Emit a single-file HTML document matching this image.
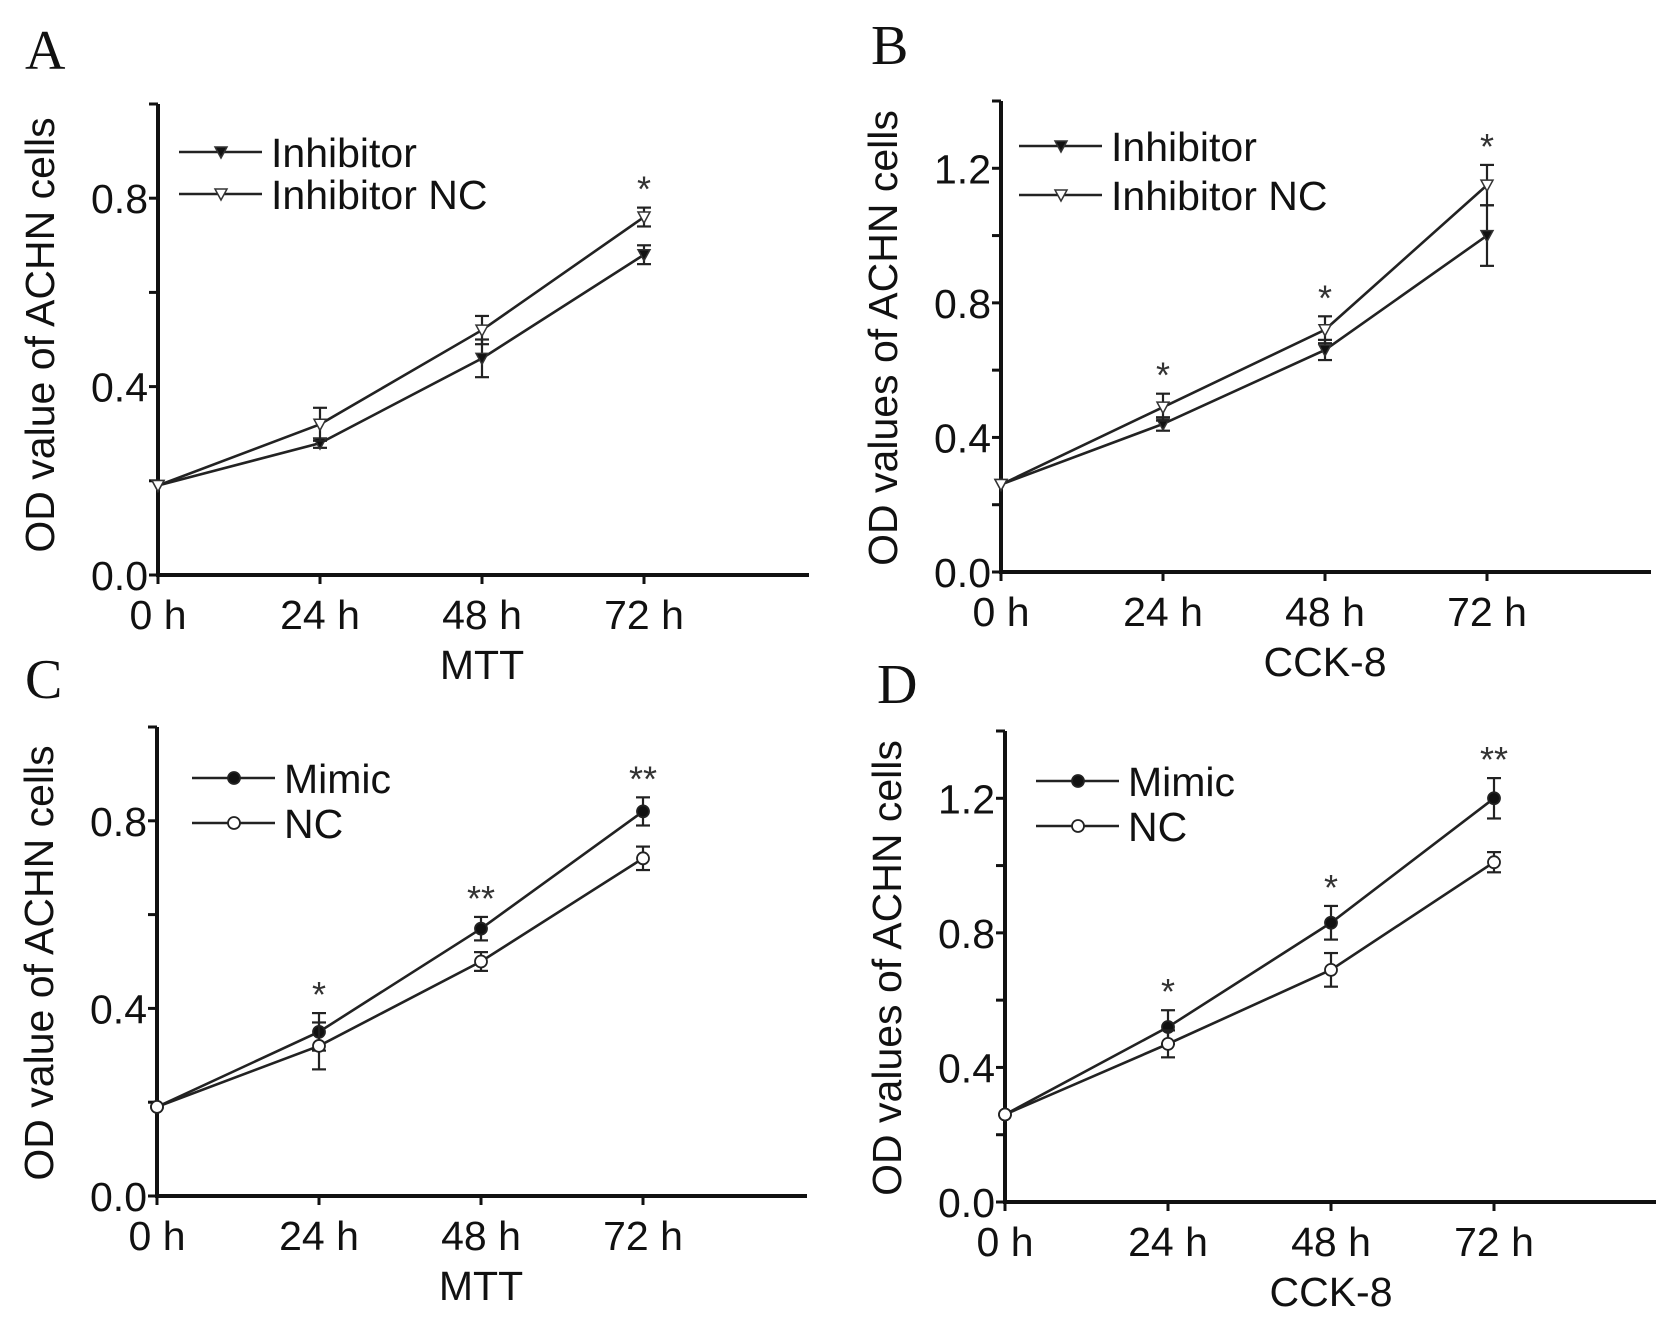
<!DOCTYPE html>
<html><head><meta charset="utf-8"><style>
body{margin:0;background:#fff;}
svg{display:block;font-family:"Liberation Sans",sans-serif;}
</style></head><body>
<svg id="fig" width="1670" height="1338" viewBox="0 0 1670 1338"></svg>
<script>
const timeLabels=["0 h","24 h","48 h","72 h"];
const aInhibitor=[0.19,0.28,0.46,0.68];
const aInhibitorErr=[0,0.01,0.04,0.02];
const aInhibitorNC=[0.19,0.32,0.52,0.76];
const aInhibitorNCErr=[0,0.035,0.03,0.02];
const aStars=["","","","*"];
const bInhibitor=[0.26,0.44,0.66,1.00];
const bInhibitorErr=[0,0.02,0.03,0.09];
const bInhibitorNC=[0.26,0.49,0.72,1.15];
const bInhibitorNCErr=[0,0.04,0.04,0.06];
const bStars=["","*","*","*"];
const cMimic=[0.19,0.35,0.57,0.82];
const cMimicErr=[0,0.04,0.025,0.03];
const cNC=[0.19,0.32,0.50,0.72];
const cNCErr=[0,0.05,0.02,0.025];
const cStars=["","*","**","**"];
const dMimic=[0.26,0.52,0.83,1.20];
const dMimicErr=[0,0.05,0.05,0.06];
const dNC=[0.26,0.47,0.69,1.01];
const dNCErr=[0,0.04,0.05,0.03];
const dStars=["","*","*","**"];
const ticksMTT=[0.0,0.4,0.8];
const ticksCCK=[0.0,0.4,0.8,1.2];

const NS="http://www.w3.org/2000/svg";
const svg=document.getElementById('fig');
const FS=41;
function mk(tag,attrs,parent,text){const e=document.createElementNS(NS,tag);for(const k in attrs)e.setAttribute(k,attrs[k]);if(text!==undefined)e.textContent=text;(parent||svg).appendChild(e);return e;}

function panel(p){
  const g=mk('g',{});
  
  
  const X=i=>p.x0+i*p.dx;
  const Y=v=>p.y0-(v/p.ymax)*(p.y0-p.yTop);
  const L=mk('text',{x:p.lx,y:p.ly,'font-family':'"Liberation Serif",serif','font-size':56,fill:'#111'},g,p.id);
  
  
  const ya=mk('line',{x1:p.x0,y1:p.yTop,x2:p.x0,y2:p.y0+2,stroke:'#111','stroke-width':4},g);
  
  
  const xa=mk('line',{x1:p.x0-2,y1:p.y0,x2:p.xEnd,y2:p.y0,stroke:'#111','stroke-width':4},g);
  
  
  for(let v=0;v<=p.ymax+1e-9;v+=0.2){mk('line',{x1:p.x0-9,y1:Y(v),x2:p.x0,y2:Y(v),stroke:'#111','stroke-width':3},g);}
  p.ticks.forEach(v=>{
    const t=mk('text',{x:p.x0-10,y:Y(v)+15,'text-anchor':'end','font-size':FS,fill:'#111'},g,v.toFixed(1));
    
    
  });
  timeLabels.forEach((s,i)=>{
    mk('line',{x1:X(i),y1:p.y0,x2:X(i),y2:p.y0+9,stroke:'#111','stroke-width':3},g);
    const t=mk('text',{x:X(i),y:p.y0+54,'text-anchor':'middle','font-size':FS,fill:'#111'},g,s);
    
    
  });
  const yt=mk('text',{x:0,y:0,'text-anchor':'middle','font-size':FS,fill:'#111',transform:`translate(${p.x0-104},${p.titleY}) rotate(-90)`},g,p.ytitle);
  
  
  const xt=mk('text',{x:X(2),y:p.y0+104,'text-anchor':'middle','font-size':FS,fill:'#111'},g,p.xtitle);
  
  
  p.series.forEach((s,si)=>{
    const pts=s.v.map((v,i)=>X(i)+','+Y(v)).join(' ');
    const pl=mk('polyline',{points:pts,fill:'none',stroke:'#222','stroke-width':2.6},g);
    
    
    s.v.forEach((v,i)=>{
      const e=s.e[i];
      if(e>0){
        mk('line',{x1:X(i),y1:Y(v+e),x2:X(i),y2:Y(v-e),stroke:'#222','stroke-width':2.2},g);
        mk('line',{x1:X(i)-7,y1:Y(v+e),x2:X(i)+7,y2:Y(v+e),stroke:'#222','stroke-width':2.2},g);
        mk('line',{x1:X(i)-7,y1:Y(v-e),x2:X(i)+7,y2:Y(v-e),stroke:'#222','stroke-width':2.2},g);
      }
      const m=marker(s.shape,s.filled,X(i),Y(v),g);
      
      
    });
  });
  const top=p.series[0].v.map((v,i)=>Math.max(p.series[0].v[i]+p.series[0].e[i],p.series[1].v[i]+p.series[1].e[i]));
  p.stars.forEach((s,i)=>{
    if(!s)return;
    const t=mk('text',{x:X(i),y:Y(top[i])-6,'text-anchor':'middle','font-size':36,fill:'#333'},g,s);
    
    
  });
  p.series.forEach((s,si)=>{
    const ly=p.legY+si*p.legDy;
    mk('line',{x1:p.legX,y1:ly,x2:p.legX+83,y2:ly,stroke:'#222','stroke-width':2.6},g);
    marker(s.shape,s.filled,p.legX+42,ly,g);
    const t=mk('text',{x:p.legX+92,y:ly+15,'font-size':FS,fill:'#111'},g,s.name);
    
    
  });
}
function marker(shape,filled,x,y,g){
  if(shape==='tri'){
    return mk('polygon',{points:`${x-6},${y-5} ${x+6},${y-5} ${x},${y+6}`,fill:filled?'#111':'#fff',stroke:'#333','stroke-width':1.5},g);
  }
  return mk('circle',{cx:x,cy:y,r:6,fill:filled?'#111':'#fff',stroke:'#222','stroke-width':1.8},g);
}
panel({id:'A',lx:25,ly:69,x0:158,dx:162,xEnd:809,y0:575,yTop:104,ymax:1.0,ticks:ticksMTT,
  ytitle:'OD value of ACHN cells',xtitle:'MTT',titleY:335,legX:179,legY:152,legDy:42,stars:aStars,
  series:[{key:'inhibitor',name:'Inhibitor',v:aInhibitor,e:aInhibitorErr,shape:'tri',filled:true},
          {key:'inhibitor-nc',name:'Inhibitor NC',v:aInhibitorNC,e:aInhibitorNCErr,shape:'tri',filled:false}]});
panel({id:'B',lx:871,ly:64,x0:1001,dx:162,xEnd:1651,y0:572,yTop:101,ymax:1.4,ticks:ticksCCK,
  ytitle:'OD values of ACHN cells',xtitle:'CCK-8',titleY:338,legX:1019,legY:146,legDy:49,stars:bStars,
  series:[{key:'inhibitor',name:'Inhibitor',v:bInhibitor,e:bInhibitorErr,shape:'tri',filled:true},
          {key:'inhibitor-nc',name:'Inhibitor NC',v:bInhibitorNC,e:bInhibitorNCErr,shape:'tri',filled:false}]});
panel({id:'C',lx:25,ly:698,x0:157,dx:162,xEnd:807,y0:1196,yTop:727,ymax:1.0,ticks:ticksMTT,
  ytitle:'OD value of ACHN cells',xtitle:'MTT',titleY:963,legX:192,legY:778,legDy:45,stars:cStars,
  series:[{key:'mimic',name:'Mimic',v:cMimic,e:cMimicErr,shape:'circle',filled:true},
          {key:'nc',name:'NC',v:cNC,e:cNCErr,shape:'circle',filled:false}]});
panel({id:'D',lx:877,ly:703,x0:1005,dx:163,xEnd:1656,y0:1202,yTop:731,ymax:1.4,ticks:ticksCCK,
  ytitle:'OD values of ACHN cells',xtitle:'CCK-8',titleY:968,legX:1036,legY:781,legDy:45,stars:dStars,
  series:[{key:'mimic',name:'Mimic',v:dMimic,e:dMimicErr,shape:'circle',filled:true},
          {key:'nc',name:'NC',v:dNC,e:dNCErr,shape:'circle',filled:false}]});
</script>
</body></html>
